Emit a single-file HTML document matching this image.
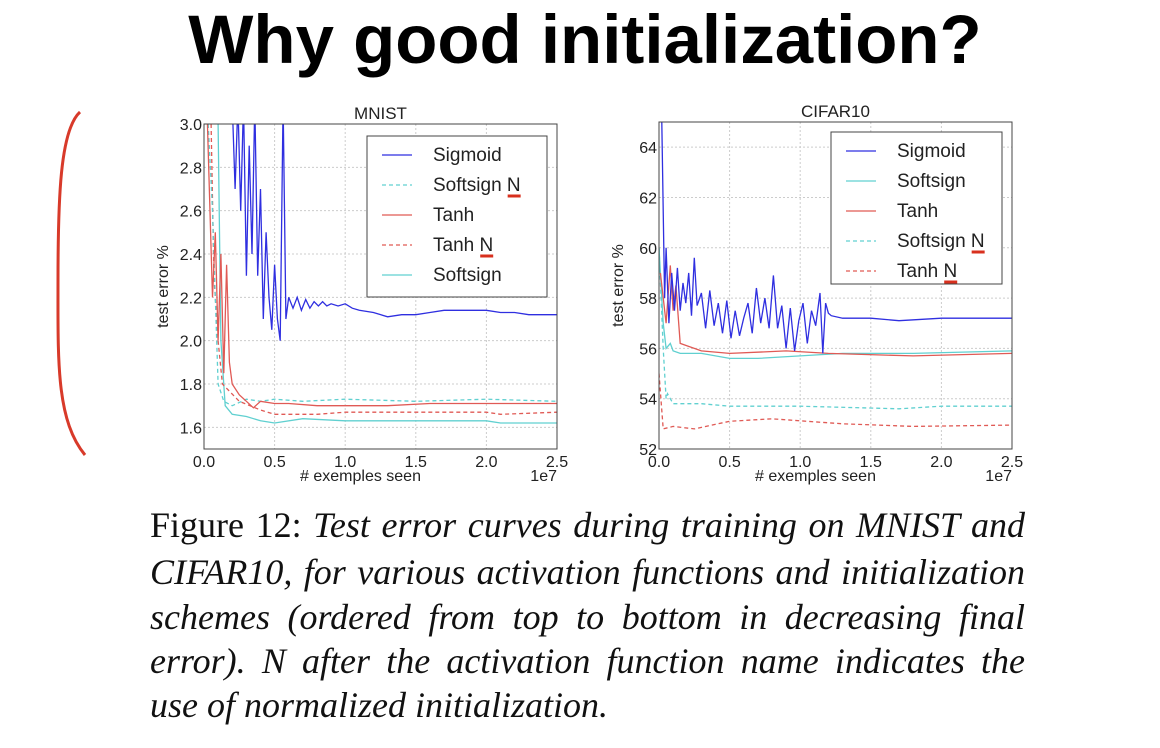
<!DOCTYPE html>
<html><head><meta charset="utf-8"><style>
body{margin:0;width:1160px;height:748px;background:#fff;overflow:hidden;position:relative;font-family:"Liberation Sans",sans-serif}
#title{position:absolute;left:0;width:1170px;top:0px;text-align:center;font-weight:bold;font-size:69px;color:#000}
.cap{position:absolute;left:150px;width:875px;font-family:"Liberation Serif",serif;font-size:36px;line-height:40px;color:#111;white-space:nowrap;text-align:justify;text-align-last:justify}
.cap.last{text-align-last:left}
svg text{font-family:"Liberation Sans",sans-serif}
</style></head><body>
<div id="title">Why good initialization?</div>
<svg id="chart" width="1160" height="748" style="position:absolute;left:0;top:0">
<path d="M80,112 C60,130 58,200 58,280 C58,360 56,420 85,455" stroke="#d83a2a" stroke-width="3" fill="none"/>
</svg>
<div class="cap" style="top:505px">Figure 12: <i>Test error curves during training on MNIST and</i></div>
<div class="cap" style="top:552px"><i>CIFAR10, for various activation functions and initialization</i></div>
<div class="cap" style="top:597px"><i>schemes (ordered from top to bottom in decreasing final</i></div>
<div class="cap" style="top:641px"><i>error). N after the activation function name indicates the</i></div>
<div class="cap last" style="top:685px"><i>use of normalized initialization.</i></div>
<script>
const mnistXTicks=[0,0.5,1.0,1.5,2.0,2.5];
const mnistYTicks=[1.6,1.8,2.0,2.2,2.4,2.6,2.8,3.0];
const mnSigX=[0.2,0.22,0.24,0.26,0.28,0.3,0.32,0.34,0.36,0.38,0.4,0.42,0.44,0.46,0.48,0.5,0.52,0.54,0.56,0.58,0.6,0.63,0.66,0.69,0.72,0.75,0.78,0.81,0.84,0.87,0.9,0.95,1.0,1.05,1.1,1.2,1.3,1.4,1.5,1.6,1.7,1.8,1.9,2.0,2.1,2.2,2.3,2.4,2.5];
const mnSigY=[3.1,2.7,3.1,2.6,3.1,2.3,2.9,2.4,3.1,2.3,2.7,2.1,2.5,2.2,2.05,2.35,2.1,2.0,3.1,2.1,2.2,2.15,2.2,2.14,2.19,2.15,2.18,2.16,2.18,2.16,2.17,2.16,2.17,2.15,2.14,2.13,2.11,2.12,2.12,2.13,2.14,2.14,2.14,2.14,2.13,2.13,2.12,2.12,2.12];
const mnSsnX=[0.03,0.06,0.08,0.1,0.14,0.2,0.3,0.4,0.5,0.7,1.0,1.5,2.0,2.5];
const mnSsnY=[3.0,2.6,2.2,1.8,1.72,1.7,1.73,1.72,1.73,1.72,1.73,1.72,1.73,1.72];
const mnTanhX=[0.02,0.06,0.08,0.1,0.12,0.14,0.16,0.18,0.2,0.25,0.3,0.35,0.4,0.5,0.6,0.8,1.0,1.3,1.6,2.0,2.5];
const mnTanhY=[3.1,2.2,2.5,2.0,2.4,1.85,2.35,1.9,1.8,1.75,1.72,1.69,1.72,1.71,1.71,1.7,1.7,1.7,1.71,1.71,1.71];
const mnTanhNX=[0.05,0.07,0.1,0.13,0.25,0.4,0.5,0.8,1.0,1.5,2.0,2.1,2.5];
const mnTanhNY=[3.0,2.3,2.0,1.8,1.72,1.68,1.66,1.66,1.67,1.67,1.67,1.66,1.67];
const mnSsX=[0.1,0.12,0.15,0.2,0.3,0.4,0.5,0.7,1.0,1.5,2.0,2.1,2.5];
const mnSsY=[3.0,2.0,1.7,1.66,1.65,1.63,1.62,1.64,1.63,1.63,1.63,1.62,1.62];
const cifXTicks=[0,0.5,1.0,1.5,2.0,2.5];
const cifYTicks=[52,54,56,58,60,62,64];
const cfSigX=[0.02,0.04,0.05,0.07,0.09,0.11,0.13,0.15,0.17,0.19,0.21,0.23,0.25,0.27,0.3,0.33,0.36,0.39,0.42,0.45,0.48,0.51,0.54,0.57,0.6,0.63,0.66,0.69,0.72,0.75,0.78,0.81,0.84,0.87,0.9,0.93,0.96,0.99,1.02,1.05,1.08,1.11,1.14,1.16,1.18,1.2,1.22,1.3,1.5,1.7,2.0,2.3,2.5];
const cfSigY=[65,58,60,57,59,57.5,59.2,57.5,58.6,57.8,59,57.3,59.6,57.7,58.2,56.8,58.3,56.9,57.8,56.6,57.9,56.4,57.5,56.5,57.2,57.8,56.6,58.4,57.0,58.0,56.8,58.9,56.8,57.7,56.0,57.6,55.9,57.1,57.8,56.2,57.5,56.9,58.2,55.8,57.8,57.4,57.3,57.2,57.2,57.1,57.2,57.2,57.2];
const cfSsX=[0.0,0.03,0.05,0.08,0.1,0.15,0.3,0.5,0.7,1.0,1.3,1.8,2.5];
const cfSsY=[60,57,56,56.2,55.9,55.8,55.8,55.6,55.6,55.7,55.8,55.8,55.9];
const cfTanhX=[0.01,0.05,0.08,0.1,0.12,0.15,0.2,0.3,0.5,0.9,1.2,1.8,2.5];
const cfTanhY=[59,57,59.3,57.5,58.5,56.2,56.1,55.9,55.8,55.9,55.8,55.7,55.8];
const cfSsnX=[0.0,0.03,0.05,0.06,0.1,0.3,0.5,1.0,1.7,2.0,2.5];
const cfSsnY=[60,56,54,54.2,53.8,53.8,53.7,53.7,53.6,53.7,53.7];
const cfTanhNX=[0.0,0.03,0.1,0.25,0.5,0.8,1.3,1.8,2.5];
const cfTanhNY=[55,52.8,52.9,52.8,53.1,53.2,53.0,52.9,52.95];

const NS='http://www.w3.org/2000/svg';
const svg=document.getElementById('chart');
function mk(tag,attrs,parent){const e=document.createElementNS(NS,tag);for(const k in attrs)e.setAttribute(k,attrs[k]);(parent||svg).appendChild(e);return e;}
function panel(o){
  const g=mk('g',{});
  
  
  const sx=v=>o.x0+(v-o.xmin)/(o.xmax-o.xmin)*(o.x1-o.x0);
  const sy=v=>o.y1-(v-o.ymin)/(o.ymax-o.ymin)*(o.y1-o.y0);
  mk('rect',{x:o.x0,y:o.y0,width:o.x1-o.x0,height:o.y1-o.y0,fill:'#fff'},g);
  const cid='clip-'+o.name;
  const cp=mk('clipPath',{id:cid},g);mk('rect',{x:o.x0,y:o.y0,width:o.x1-o.x0,height:o.y1-o.y0},cp);
  o.xt.forEach(t=>{const X=sx(t);
    const l=mk('line',{x1:X,x2:X,y1:o.y0,y2:o.y1,stroke:'#ccc','stroke-dasharray':'2,2'},g);
    
    
    const tx=mk('text',{x:X,y:o.y1+18,'text-anchor':'middle','font-size':16,fill:'#222'},g);tx.textContent=t.toFixed(1);
    
    });
  o.yt.forEach(t=>{const Y=sy(t);
    const l=mk('line',{x1:o.x0,x2:o.x1,y1:Y,y2:Y,stroke:'#ccc','stroke-dasharray':'2,2'},g);
    
    
    const tx=mk('text',{x:o.x0-2,y:Y+6,'text-anchor':'end','font-size':16,fill:'#222'},g);tx.textContent=o.yfmt(t);
    
    });
  const sg=mk('g',{'clip-path':'url(#'+cid+')'},g);
  o.series.forEach(s=>{
    const d=s.x.map((v,i)=>(i?'L':'M')+sx(v).toFixed(1)+','+sy(s.y[i]).toFixed(1)).join('');
    const p=mk('path',{d:d,fill:'none',stroke:s.c,'stroke-width':1.3,'stroke-dasharray':s.dash?'4,3':'none'},sg);
    
    
  });
  mk('rect',{x:o.x0,y:o.y0,width:o.x1-o.x0,height:o.y1-o.y0,fill:'none',stroke:'#444','stroke-width':1},g);
  const t=mk('text',{x:(o.x0+o.x1)/2,y:o.y0-5,'text-anchor':'middle','font-size':17,fill:'#222'},g);t.textContent=o.name==='mnist'?'MNIST':'CIFAR10';
  
  
  const xl=mk('text',{x:(o.x0+o.x1)/2-20,y:o.y1+32,'text-anchor':'middle','font-size':16,fill:'#222'},g);xl.textContent='# exemples seen';
  
  
  const ex=mk('text',{x:o.x1,y:o.y1+32,'text-anchor':'end','font-size':16,fill:'#222'},g);ex.textContent='1e7';
  
  
  const yl=mk('text',{x:0,y:0,'text-anchor':'middle','font-size':16,fill:'#222',transform:'translate('+(o.x0-36)+','+((o.y0+o.y1)/2)+') rotate(-90)'},g);yl.textContent='test error %';
  
  
  const lg=mk('g',{},g);
  
  
  mk('rect',{x:o.lx,y:o.ly,width:o.lw,height:o.lh,fill:'#fff',stroke:'#444'},lg);
  o.legend.forEach((s,i)=>{const Y=o.ly+19+i*30;
    mk('line',{x1:o.lx+15,x2:o.lx+45,y1:Y,y2:Y,stroke:s.c,'stroke-width':1.3,'stroke-dasharray':s.dash?'4,3':'none'},lg);
    const tx=mk('text',{x:o.lx+66,y:Y+6,'font-size':19,fill:'#222'},lg);tx.textContent=s.n;
    
    
    if(s.mark){const bb=tx.getBBox();mk('path',{d:'M'+(bb.x+bb.width-13)+','+(Y+11)+' l13,0',stroke:'#d8301e','stroke-width':3},lg);}
  });
}
const B='#2f2fe0',C='#60d0d0',R='#e05a55';
const mSeries=[{n:'Softsign',x:mnSsX,y:mnSsY,c:C},{n:'Tanh N',x:mnTanhNX,y:mnTanhNY,c:R,dash:1},{n:'Softsign N',x:mnSsnX,y:mnSsnY,c:C,dash:1},{n:'Tanh',x:mnTanhX,y:mnTanhY,c:R},{n:'Sigmoid',x:mnSigX,y:mnSigY,c:B}];
panel({name:'mnist',x0:204,x1:557,y0:124,y1:449,xmin:0,xmax:2.5,ymin:1.5,ymax:3.0,xt:mnistXTicks,yt:mnistYTicks,yfmt:t=>t.toFixed(1),
 series:mSeries,lx:367,ly:136,lw:180,lh:161,
 legend:[{n:'Sigmoid',c:B},{n:'Softsign N',c:C,dash:1,mark:1},{n:'Tanh',c:R},{n:'Tanh N',c:R,dash:1,mark:1},{n:'Softsign',c:C}]});
const cSeries=[{n:'Tanh N',x:cfTanhNX,y:cfTanhNY,c:R,dash:1},{n:'Softsign N',x:cfSsnX,y:cfSsnY,c:C,dash:1},{n:'Softsign',x:cfSsX,y:cfSsY,c:C},{n:'Tanh',x:cfTanhX,y:cfTanhY,c:R},{n:'Sigmoid',x:cfSigX,y:cfSigY,c:B}];
panel({name:'cifar',x0:659,x1:1012,y0:122,y1:449,xmin:0,xmax:2.5,ymin:52,ymax:65,xt:cifXTicks,yt:cifYTicks,yfmt:t=>String(t),
 series:cSeries,lx:831,ly:132,lw:171,lh:152,
 legend:[{n:'Sigmoid',c:B},{n:'Softsign',c:C},{n:'Tanh',c:R},{n:'Softsign N',c:C,dash:1,mark:1},{n:'Tanh N',c:R,dash:1,mark:1}]});
</script>
</body></html>
